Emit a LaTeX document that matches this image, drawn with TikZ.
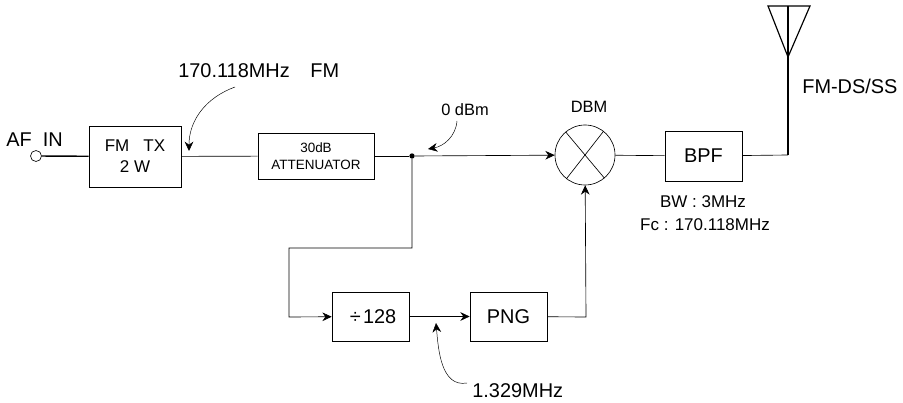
\documentclass[tikz,border=0pt]{standalone}
\usepackage{fontspec}
\setmainfont{Liberation Sans}
\usetikzlibrary{arrows.meta}

\begin{document}
\begin{tikzpicture}[
    x=0.03cm, y=-0.03cm,
    line width=0.55pt,
    >={Stealth[length=2.8mm, width=2.6mm]},
    box/.style={draw, minimum height=1.5cm, inner sep=0pt, align=center},
    big/.style={font=\fontsize{17}{20}\selectfont},
    mid/.style={font=\fontsize{14.5}{17}\selectfont},
    small/.style={font=\fontsize{11.5}{14}\selectfont},
    lbl/.style={inner sep=0pt, align=center},
    tip/.style={->, line width=0.4pt}
]
\useasboundingbox (0,0) rectangle (903,403);

% ================= Nodes =================

% Top row
\node[draw, circle, minimum size=0.33cm, inner sep=0pt] (af) at (36,156) {};
\node[box, mid, minimum width=2.76cm, minimum height=1.83cm] (tx) at (135,156.5) {FM\ \ \ TX \\[1pt] 2 W};
\node[box, small, minimum width=3.48cm, minimum height=1.38cm] (att) at (316,156) {30dB \\[1pt] ATTENUATOR};
\node[circle, fill, inner sep=0pt, minimum size=0.16cm] (split) at (412,156) {};
\node[draw, circle, minimum size=1.8cm, inner sep=0pt] (dbm) at (585,155) {};
\node[box, big, minimum width=2.31cm, minimum height=1.5cm] (bpf) at (703.5,156) {BPF};

% Lower row
\node[box, big, minimum width=2.31cm, minimum height=1.47cm] (div) at (370.5,316.5) {\hspace{0.15cm}÷\kern2pt128};
\node[box, big, minimum width=2.31cm, minimum height=1.47cm] (png) at (508.5,316.5) {PNG};

% Antenna
\coordinate (ant_foot) at (788,155);
\coordinate (ant_top) at (788,6);
\coordinate (ant_apex) at (788,57);
\coordinate (ant_l) at (768,6);
\coordinate (ant_r) at (810,6);

% Feedback corners
\coordinate (fb_a) at (412,248);
\coordinate (fb_b) at (289,248);
\coordinate (fb_c) at (289,317);
\coordinate (png_r) at (586,317);

% ================= Labels =================

\node[lbl, big, anchor=west] (af_txt) at (6,140) {AF\ \ IN};
\node[lbl, big, anchor=west] (carrier) at (178,71) {170.118MHz\hspace{0.62cm}FM};
\node[lbl, font=\fontsize{14}{17}\selectfont, anchor=west] (level) at (441,110) {0 dBm};
\node[lbl, font=\fontsize{14}{17}\selectfont] (dbm_txt) at (589,107) {DBM};
\node[lbl, mid] (bw) at (703,202) {BW : 3MHz};
\node[lbl, mid] (fc) at (705,225) {Fc : 170.118MHz};
\node[lbl, big, anchor=west] (ds) at (802,86) {FM-DS/SS};
\node[lbl, big, anchor=west] (clock) at (472,391) {1.329MHz};

% ================= Edges =================

% Signal path
\draw[line width=1.2pt] (af) -- (tx);
\draw (tx) -- (att);
\draw (att) -- (split);
\draw[->] (split) -- (dbm);
\draw (dbm) -- (bpf);

% The X of the mixer
\draw (dbm.130) -- (dbm.310);
\draw (dbm.52) -- (dbm.232);

% Antenna
\draw (bpf) -- (ant_foot);
\draw[line width=1.2pt] (ant_foot) -- (ant_top);
\draw[line width=1pt] (ant_l) -- (ant_r) -- (ant_apex) -- cycle;

% Feedback through divider and PNG
\draw[->] (split) -- (fb_a) -- (fb_b) -- (fb_c) -- (div);
\draw[->] (div) -- (png);
\draw[->] (png) -- (png_r) -- (dbm);

% Pointers from the labels
\coordinate (tip_a) at (235,87);
\coordinate (tip_b) at (189,151);
\coordinate (tip_c) at (457,121);
\coordinate (tip_d) at (428,149);
\coordinate (tip_e) at (467,383);
\coordinate (tip_f) at (436,323);
\draw[tip] (tip_a) to[out=200, in=90] (tip_b);
\draw[tip] (tip_c) to[out=265, in=10] (tip_d);
\draw[tip] (tip_e) to[out=190, in=275] (tip_f);

\end{tikzpicture}
\end{document}
